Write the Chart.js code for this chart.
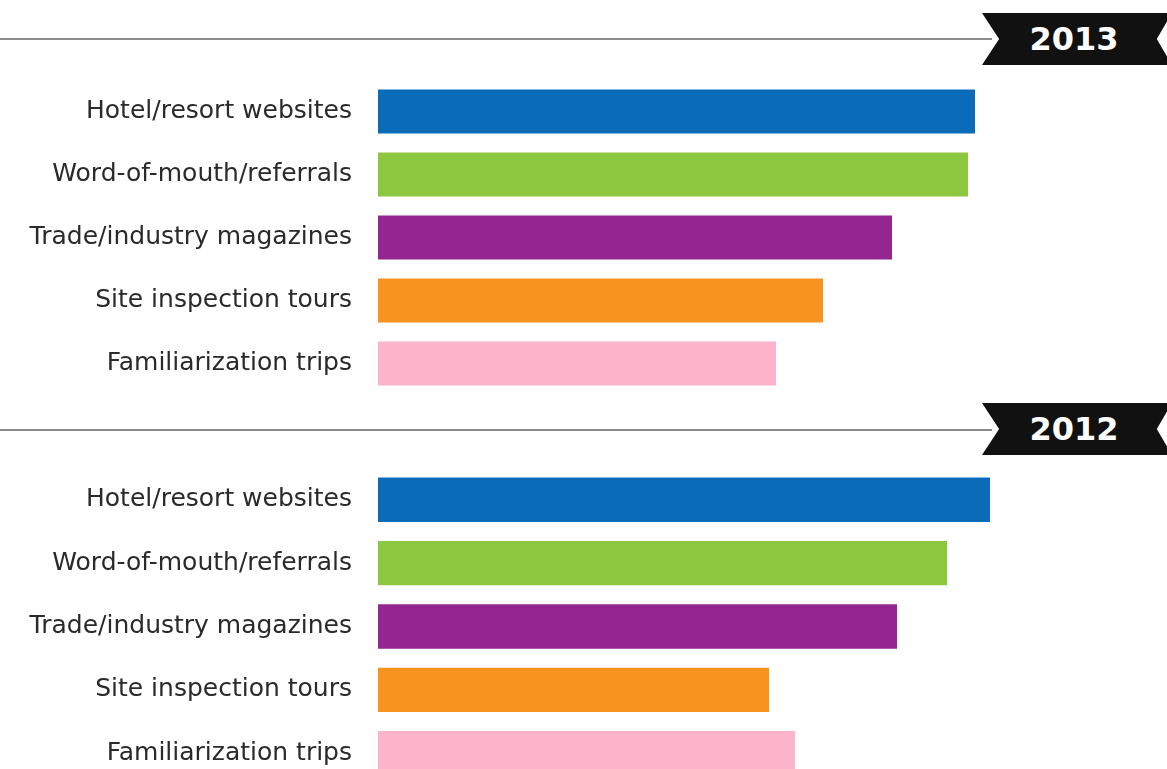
<!DOCTYPE html>
<html>
<head>
<meta charset="utf-8">
<script src="https://cdn.jsdelivr.net/npm/chart.js@4/dist/chart.umd.min.js"></script>
<style>
    body { margin: 0; background: #fff; width: 1167px; height: 769px; overflow: hidden; position: relative; }
    .rule { position: absolute; left: 0; width: 992px; height: 2px; background: #8a8a8a; }
    .ribbon { position: absolute; left: 982px; width: 190px; height: 52px; background: #111;
        clip-path: polygon(0 0, 100% 0, 92% 50%, 100% 100%, 0 100%, 9% 50%); }
    .ribbon span { position: absolute; left: 0; width: 184px; top: 7px; text-align: center; color: #fff;
        font: bold 32px "DejaVu Sans"; }
    canvas { position: absolute; left: 0; }
</style>
</head>
<body>
<div class="rule" style="top:38px"></div>
<div class="ribbon" style="top:13px"><span id="year1"></span></div>
<canvas id="chart2013" width="1167" height="315" style="top:80px"></canvas>

<div class="rule" style="top:429px"></div>
<div class="ribbon" style="top:403px"><span id="year2"></span></div>
<canvas id="chart2012" width="1167" height="317" style="top:468px"></canvas>

<script>
const years = ['2013', '2012'];
const categories = [
    'Hotel/resort websites',
    'Word-of-mouth/referrals',
    'Trade/industry magazines',
    'Site inspection tours',
    'Familiarization trips'
];
const values2013 = [59.7, 59.0, 51.4, 44.5, 39.8];
const values2012 = [61.2, 56.9, 51.9, 39.1, 41.7];
const barColors = ['#0a6cb9', '#8dc63f', '#93268f', '#f7931e', '#fbb4c9'];

document.getElementById('year1').textContent = years[0];
document.getElementById('year2').textContent = years[1];

makeChart('chart2013', values2013);
makeChart('chart2012', values2012);

function makeChart(id, values)
{
    const ctx = document.getElementById(id).getContext('2d');
    return new Chart(ctx, {
        type: 'bar',
        data: {
            labels: categories,
            datasets: [{
                data: values,
                backgroundColor: barColors,
                borderWidth: 0,
                categoryPercentage: 1,
                barPercentage: 0.7
            }]
        },
        options: {
            indexAxis: 'y',
            responsive: false,
            animation: false,
            layout: { padding: { left: 0, right: 89, top: 0, bottom: 0 } },
            plugins: {
                legend: { display: false },
                tooltip: { enabled: false }
            },
            scales: {
                x: {
                    display: false,
                    min: 0,
                    max: 70
                },
                y: {
                    // fixed label column, no extra room above/below the bars
                    afterFit: function (scale)
                    {
                        scale.width = 378;
                        scale.paddingTop = 0;
                        scale.paddingBottom = 0;
                    },
                    grid: { display: false, drawTicks: false },
                    border: { display: false },
                    ticks: {
                        padding: 26,
                        color: '#2a2a2a',
                        font: { family: 'DejaVu Sans', size: 25 }
                    }
                }
            }
        }
    });
}
</script>
</body>
</html>
